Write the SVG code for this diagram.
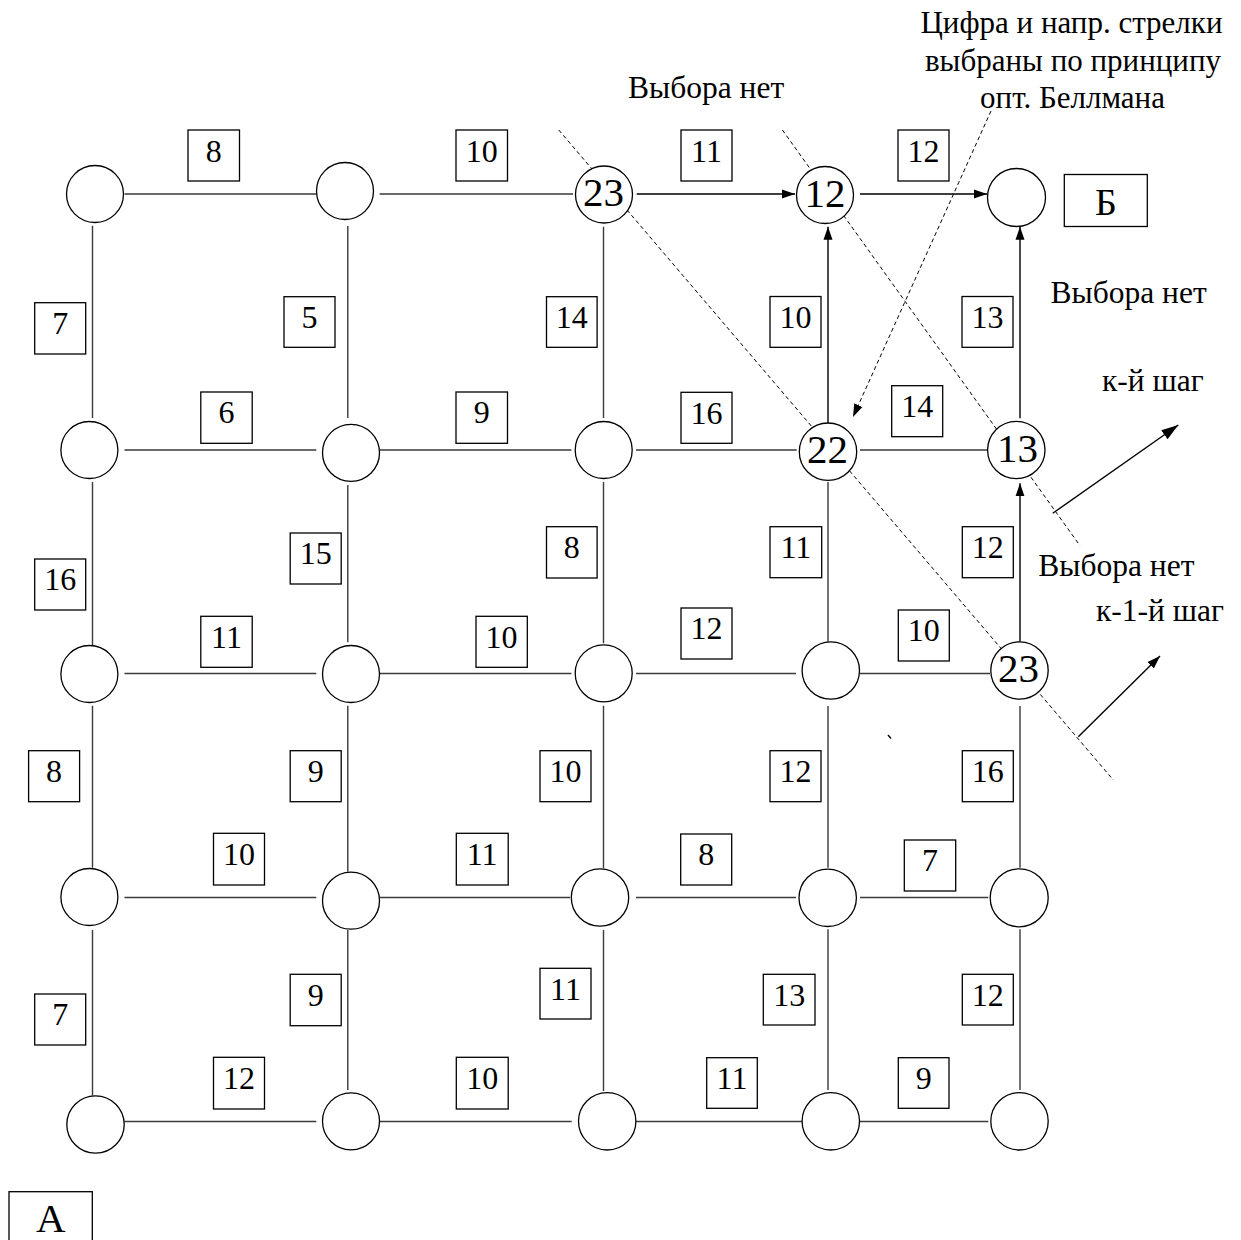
<svg xmlns="http://www.w3.org/2000/svg" width="1241" height="1240" viewBox="0 0 1241 1240">
<style>
  .bg{fill:#fff}
  .nd{fill:#fff;stroke:#000;stroke-width:1.3}
  .bx{fill:#fff;stroke:#000;stroke-width:1.3}
  .ln{fill:none;stroke:#3a3a3a;stroke-width:1.4}
  .ar{fill:none;stroke:#000;stroke-width:1.4}
  .dl{fill:none;stroke:#000;stroke-width:1;stroke-dasharray:4,3}
  .t{font-family:"Liberation Serif","Times New Roman",serif;fill:#000}
  .bt{font-size:32px;text-anchor:middle}
  .nt{font-size:41px;text-anchor:middle}
  .lt{font-size:31.5px}
  .tt{font-size:31px;text-anchor:middle}
</style>
<defs>
  <marker id="ah" markerWidth="14" markerHeight="10" refX="13" refY="5" orient="auto" markerUnits="userSpaceOnUse">
    <path d="M0,0.5 L13,5 L0,9.5 z" fill="#000"/>
  </marker>
  <marker id="ah2" markerWidth="18" markerHeight="12" refX="17" refY="6" orient="auto" markerUnits="userSpaceOnUse">
    <path d="M0,0.5 L17,6 L0,11.5 z" fill="#000"/>
  </marker>
</defs>
<rect class="bg" x="0" y="0" width="1241" height="1240"/>

<g id="connectors">
  <!-- horizontal -->
  <path class="ln" d="M124.5,194 H316 M379.6,194 H573"/>
  <path class="ar" d="M636.7,194 H795" marker-end="url(#ah)"/>
  <path class="ar" d="M860,194 H987" marker-end="url(#ah)"/>
  <path class="ln" d="M124.5,450 H316.3 M379.6,450 H571.4 M636,450 H796.7 M860,450 H987.7"/>
  <path class="ln" d="M124.5,673.5 H316.3 M379.6,673.5 H571.4 M636,673.5 H796 M860,673.5 H990"/>
  <path class="ln" d="M124.5,897.5 H316.3 M379.6,897.5 H570 M636,897.5 H796 M860,897.5 H988.3"/>
  <path class="ln" d="M124.3,1121.5 H316.3 M379.6,1121.5 H571.7 M636,1121.5 H809.3 M860,1121.5 H988.3"/>
  <!-- vertical -->
  <path class="ln" d="M92.5,225.7 V418 M92.5,482 V645.7 M92.5,705.7 V867.7 M92.5,930 V1095.7"/>
  <path class="ln" d="M347.8,226 V418 M347.8,485 V642.3 M347.8,705.7 V871.7 M347.8,930 V1090"/>
  <path class="ln" d="M603.5,226.7 V418 M603.5,482 V643.3 M603.5,705.7 V868.3 M603.5,930 V1091"/>
  <path class="ar" d="M828,425 V226.7" marker-end="url(#ah)"/>
  <path class="ln" d="M828,482 V641.7 M828,706 V867.7 M828,929.3 V1090"/>
  <path class="ar" d="M1020,418.3 V226.7" marker-end="url(#ah)"/>
  <path class="ar" d="M1020,641.7 V483.3" marker-end="url(#ah)"/>
  <path class="ln" d="M1020,706 V867.7 M1020,929.3 V1090"/>
  <!-- step boundaries -->
  <path class="dl" d="M558.75,130 L1113.3,780"/>
  <path class="dl" d="M782.4,130 L1080,545.7"/>
  <path class="dl" d="M991,111 L853,417" marker-end="url(#ah)"/>
  <path class="ar" d="M1052.7,513.3 L1178.3,425" stroke-width="2.2" marker-end="url(#ah2)"/>
  <path class="ar" d="M1078.3,736.7 L1160,656" marker-end="url(#ah)"/>
  <path class="ar" d="M888,735 L891,738.5" stroke-width="1"/>
</g>

<g id="nodes">
  <g id="n11"><circle class="nd" cx="95" cy="194" r="28.5"/></g>
  <g id="n12"><circle class="nd" cx="345" cy="191" r="28.5"/></g>
  <g id="n13"><circle class="nd" cx="604" cy="194.5" r="28.5"/><text class="t nt" x="603.5" y="206">23</text></g>
  <g id="n14"><circle class="nd" cx="825" cy="195" r="28.5"/><text class="t nt" x="825" y="206.5">12</text></g>
  <g id="n15"><circle class="nd" cx="1016.5" cy="197.5" r="29"/></g>

  <g id="n21"><circle class="nd" cx="89.4" cy="450" r="28.5"/></g>
  <g id="n22"><circle class="nd" cx="351" cy="452.8" r="28.5"/></g>
  <g id="n23"><circle class="nd" cx="603.7" cy="450" r="28.5"/></g>
  <g id="n24"><circle class="nd" cx="828" cy="451.7" r="28.7"/><text class="t nt" x="827.5" y="463.3">22</text></g>
  <g id="n25"><circle class="nd" cx="1016.3" cy="450" r="28.7"/><text class="t nt" x="1017.5" y="462">13</text></g>

  <g id="n31"><circle class="nd" cx="89.4" cy="674" r="28.5"/></g>
  <g id="n32"><circle class="nd" cx="351" cy="674" r="28.5"/></g>
  <g id="n33"><circle class="nd" cx="603.7" cy="673.3" r="28.5"/></g>
  <g id="n34"><circle class="nd" cx="830.8" cy="670.5" r="28.7"/></g>
  <g id="n35"><circle class="nd" cx="1019.5" cy="670.5" r="28.7"/><text class="t nt" x="1018.5" y="682">23</text></g>

  <g id="n41"><circle class="nd" cx="89.4" cy="897" r="28.5"/></g>
  <g id="n42"><circle class="nd" cx="351" cy="900.7" r="28.5"/></g>
  <g id="n43"><circle class="nd" cx="600" cy="897.5" r="28.7"/></g>
  <g id="n44"><circle class="nd" cx="827.7" cy="897.8" r="28.7"/></g>
  <g id="n45"><circle class="nd" cx="1019.2" cy="897.8" r="29"/></g>

  <g id="n51"><circle class="nd" cx="95.5" cy="1124.5" r="28.7"/></g>
  <g id="n52"><circle class="nd" cx="351" cy="1121.3" r="28.5"/></g>
  <g id="n53"><circle class="nd" cx="607.2" cy="1121.3" r="28.7"/></g>
  <g id="n54"><circle class="nd" cx="830.8" cy="1121.3" r="28.7"/></g>
  <g id="n55"><circle class="nd" cx="1019.5" cy="1121.3" r="28.7"/></g>

  <g id="nodeB"><rect class="bx" x="1064.3" y="174.5" width="83" height="52"/><text class="t" x="1106" y="215" font-size="38" text-anchor="middle">Б</text></g>
  <g id="nodeA"><rect class="bx" x="9" y="1191.7" width="83.3" height="60"/><text class="t" x="50.7" y="1231.5" font-size="41" text-anchor="middle">А</text></g>
</g>

<g id="weights">
  <!-- row 1 horizontals -->
  <g><rect class="bx" x="188" y="130" width="51.5" height="51"/><text class="t bt" x="213.7" y="161.5">8</text></g>
  <g><rect class="bx" x="456" y="130" width="51.5" height="51"/><text class="t bt" x="481.7" y="161.5">10</text></g>
  <g><rect class="bx" x="681" y="130" width="51" height="51"/><text class="t bt" x="706.5" y="161.5">11</text></g>
  <g><rect class="bx" x="898" y="130" width="51" height="51"/><text class="t bt" x="923.5" y="161.5">12</text></g>
  <!-- r1-r2 verticals -->
  <g><rect class="bx" x="34.7" y="302.7" width="51" height="51.3"/><text class="t bt" x="60.2" y="334.2">7</text></g>
  <g><rect class="bx" x="284" y="296.7" width="51" height="50.6"/><text class="t bt" x="309.5" y="328">5</text></g>
  <g><rect class="bx" x="546.5" y="296.7" width="50.6" height="50.6"/><text class="t bt" x="571.8" y="328">14</text></g>
  <g><rect class="bx" x="770" y="296.5" width="51" height="50.8"/><text class="t bt" x="795.5" y="327.8">10</text></g>
  <g><rect class="bx" x="962" y="296.5" width="51" height="50.8"/><text class="t bt" x="987.5" y="327.8">13</text></g>
  <!-- row 2 horizontals -->
  <g><rect class="bx" x="200.8" y="392" width="51.4" height="51.3"/><text class="t bt" x="226.5" y="423.3">6</text></g>
  <g><rect class="bx" x="456" y="392" width="51.5" height="51.3"/><text class="t bt" x="481.7" y="423.3">9</text></g>
  <g><rect class="bx" x="681" y="392.3" width="51" height="51"/><text class="t bt" x="706.5" y="423.6">16</text></g>
  <g><rect class="bx" x="891.7" y="385.7" width="51" height="51"/><text class="t bt" x="917.2" y="417">14</text></g>
  <!-- r2-r3 verticals -->
  <g><rect class="bx" x="34.7" y="559" width="51" height="51"/><text class="t bt" x="60.2" y="590.3">16</text></g>
  <g><rect class="bx" x="290.2" y="533" width="51" height="51"/><text class="t bt" x="315.7" y="564.3">15</text></g>
  <g><rect class="bx" x="546.5" y="526.7" width="50.6" height="51.3"/><text class="t bt" x="571.8" y="558">8</text></g>
  <g><rect class="bx" x="770" y="526.7" width="51.7" height="51"/><text class="t bt" x="795.8" y="558">11</text></g>
  <g><rect class="bx" x="962.3" y="526.7" width="51" height="51"/><text class="t bt" x="987.8" y="558">12</text></g>
  <!-- row 3 horizontals -->
  <g><rect class="bx" x="200.8" y="616.3" width="51.4" height="51"/><text class="t bt" x="226.5" y="647.6">11</text></g>
  <g><rect class="bx" x="476" y="616.3" width="51.3" height="51"/><text class="t bt" x="501.6" y="647.6">10</text></g>
  <g><rect class="bx" x="681" y="608" width="51" height="51"/><text class="t bt" x="706.5" y="639.3">12</text></g>
  <g><rect class="bx" x="898.3" y="610" width="51" height="51"/><text class="t bt" x="923.8" y="641.3">10</text></g>
  <!-- r3-r4 verticals -->
  <g><rect class="bx" x="28.6" y="750.7" width="51" height="51"/><text class="t bt" x="54.1" y="782">8</text></g>
  <g><rect class="bx" x="290.2" y="750.7" width="51" height="51"/><text class="t bt" x="315.7" y="782">9</text></g>
  <g><rect class="bx" x="540" y="750.7" width="51" height="51"/><text class="t bt" x="565.5" y="782">10</text></g>
  <g><rect class="bx" x="770" y="750.7" width="51" height="51"/><text class="t bt" x="795.5" y="782">12</text></g>
  <g><rect class="bx" x="962.3" y="750.7" width="51" height="51"/><text class="t bt" x="987.8" y="782">16</text></g>
  <!-- row 4 horizontals -->
  <g><rect class="bx" x="213.5" y="833.3" width="51" height="51.7"/><text class="t bt" x="239" y="864.6">10</text></g>
  <g><rect class="bx" x="456.3" y="833.3" width="51.9" height="51.7"/><text class="t bt" x="482.2" y="864.6">11</text></g>
  <g><rect class="bx" x="680.7" y="834" width="51" height="51"/><text class="t bt" x="706.2" y="865.3">8</text></g>
  <g><rect class="bx" x="904.3" y="840" width="51.4" height="51"/><text class="t bt" x="930" y="871.3">7</text></g>
  <!-- r4-r5 verticals -->
  <g><rect class="bx" x="34.7" y="994" width="51" height="51"/><text class="t bt" x="60.2" y="1025.3">7</text></g>
  <g><rect class="bx" x="290.2" y="974.3" width="51" height="51.4"/><text class="t bt" x="315.7" y="1005.6">9</text></g>
  <g><rect class="bx" x="540" y="968.3" width="51" height="50.7"/><text class="t bt" x="565.5" y="999.6">11</text></g>
  <g><rect class="bx" x="763.3" y="974.3" width="51.7" height="50.7"/><text class="t bt" x="789.2" y="1005.6">13</text></g>
  <g><rect class="bx" x="962.3" y="974.3" width="51" height="50.7"/><text class="t bt" x="987.8" y="1005.6">12</text></g>
  <!-- row 5 horizontals -->
  <g><rect class="bx" x="213.5" y="1057.3" width="51" height="51.7"/><text class="t bt" x="239" y="1088.6">12</text></g>
  <g><rect class="bx" x="456.3" y="1057.3" width="51.9" height="51.7"/><text class="t bt" x="482.2" y="1088.6">10</text></g>
  <g><rect class="bx" x="706.7" y="1057.7" width="50.6" height="50.6"/><text class="t bt" x="732" y="1089">11</text></g>
  <g><rect class="bx" x="898.3" y="1057.7" width="50.7" height="50.6"/><text class="t bt" x="923.7" y="1089">9</text></g>
</g>

<g id="annotations">
  <text class="t tt" x="1071.5" y="33.3">Цифра и напр. стрелки</text>
  <text class="t tt" x="1073" y="70.7">выбраны по принципу</text>
  <text class="t tt" x="1072.5" y="108.3">опт. Беллмана</text>
  <text class="t lt" x="628" y="97.5">Выбора нет</text>
  <text class="t lt" x="1050.5" y="302.5">Выбора нет</text>
  <text class="t lt" x="1102" y="391">к-й шаг</text>
  <text class="t lt" x="1038.3" y="576">Выбора нет</text>
  <text class="t lt" x="1096" y="621">к-1-й шаг</text>
</g>
</svg>
